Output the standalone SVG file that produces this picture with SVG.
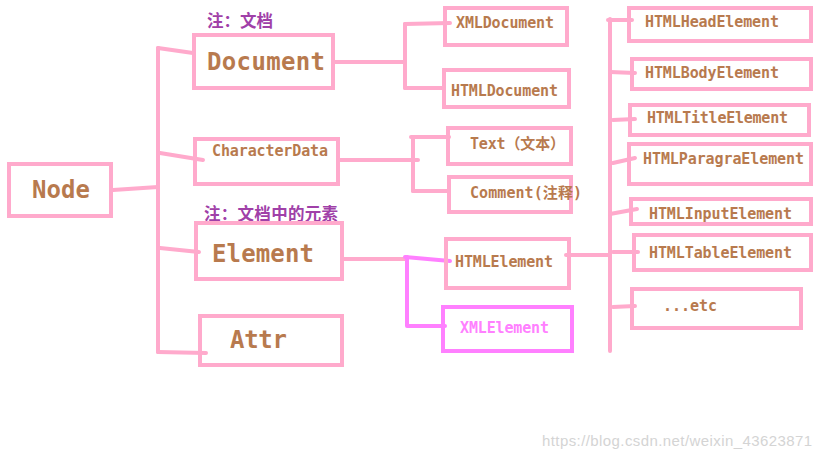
<svg xmlns="http://www.w3.org/2000/svg" width="819" height="459" viewBox="0 0 819 459">
<style>
.box{fill:none;stroke:#ffaacc;stroke-width:4}
.mbox{fill:none;stroke:#ff80ff;stroke-width:4}
.ln{fill:none;stroke:#ffaacc;stroke-width:4;stroke-linecap:round;stroke-linejoin:round}
.mln{fill:none;stroke:#ff80ff;stroke-width:4;stroke-linecap:round;stroke-linejoin:round}
text{font-family:"DejaVu Sans Mono","Noto Sans CJK SC",monospace;font-weight:bold;fill:#b87a4e}
.big{font-size:24px}
.sm{font-size:15px}
.note{font-family:"Noto Sans CJK SC",sans-serif;font-size:16.5px;fill:#a040a8}
.mt{fill:#ff80ff}
.wm{font-family:"Liberation Sans",sans-serif;font-weight:normal;font-size:15px;fill:#d4d4d4}
</style>
<rect width="819" height="459" fill="#ffffff"/>
<g id="connectors">
<path class="ln" d="M113,190 L158,187"/>
<path class="ln" d="M158,48 L158,352"/>
<path class="ln" d="M158,48 L193,53"/>
<path class="ln" d="M160,153 L203,160"/>
<path class="ln" d="M160,248 L199,252"/>
<path class="ln" d="M158,352 L206,353"/>
<path class="ln" d="M335,62 L405,62"/>
<path class="ln" d="M405,24 L405,88"/>
<path class="ln" d="M405,24 L450,23"/>
<path class="ln" d="M405,88 L444,88"/>
<path class="ln" d="M340,160 L418,160"/>
<path class="ln" d="M413,137 L413,191"/>
<path class="ln" d="M411,137 L449,137"/>
<path class="ln" d="M413,191 L447,191"/>
<path class="ln" d="M344,259 L406,259"/>
<path class="mln" d="M405,257 L450,261"/>
<path class="mln" d="M407,257 L407,326 L445,326"/>
<path class="ln" d="M566,255 L610,255"/>
<path class="ln" d="M610,19 L610,351"/>
<path class="ln" d="M608,20 L632,20"/>
<path class="ln" d="M610,72 L635,73"/>
<path class="ln" d="M613,120 L635,119"/>
<path class="ln" d="M613,163 L635,158"/>
<path class="ln" d="M610,214 L637,209"/>
<path class="ln" d="M613,252 L638,252"/>
<path class="ln" d="M613,307 L635,306"/>
</g>
<g id="node-node"><rect class="box" x="9" y="164" width="102" height="52"/><text class="big" x="32" y="198" textLength="58">Node</text></g>
<g id="node-document"><text class="note" x="207" y="27" textLength="66">注：文档</text><rect class="box" x="194" y="35" width="139" height="53"/><text class="big" x="207" y="70" textLength="118">Document</text></g>
<g id="node-characterdata"><rect class="box" x="195" y="139" width="143" height="45"/><text class="sm" x="212" y="156" textLength="116">CharacterData</text></g>
<g id="node-element"><text class="note" x="204" y="220" textLength="134">注：文档中的元素</text><rect class="box" x="196" y="223" width="146" height="56"/><text class="big" x="212" y="262" textLength="102">Element</text></g>
<g id="node-attr"><rect class="box" x="200" y="316" width="142" height="49"/><text class="big" x="230" y="348" textLength="57">Attr</text></g>
<g id="node-xmldocument"><rect class="box" x="445" y="8" width="122" height="37"/><text class="sm" x="456" y="28" textLength="98">XMLDocument</text></g>
<g id="node-htmldocument"><rect class="box" x="444" y="70" width="125" height="37"/><text class="sm" x="451" y="96" textLength="107">HTMLDocument</text></g>
<g id="node-text"><rect class="box" x="448" y="128" width="123" height="36"/><text class="sm" x="470" y="149" textLength="95">Text（文本）</text></g>
<g id="node-comment"><rect class="box" x="449" y="177" width="122" height="35"/><text class="sm" x="470" y="198" textLength="112">Comment(注释)</text></g>
<g id="node-htmlelement"><rect class="box" x="446" y="239" width="123" height="49"/><text class="sm" x="455" y="267" textLength="98">HTMLElement</text></g>
<g id="node-xmlelement"><rect class="mbox" x="443" y="307" width="129" height="44"/><text class="sm mt" x="460" y="333" textLength="89">XMLElement</text></g>
<g id="node-htmlheadelement"><rect class="box" x="629" y="8" width="182" height="33"/><text class="sm" x="645" y="27" textLength="134">HTMLHeadElement</text></g>
<g id="node-htmlbodyelement"><rect class="box" x="632" y="59" width="179" height="30"/><text class="sm" x="645" y="78" textLength="134">HTMLBodyElement</text></g>
<g id="node-htmltitleelement"><rect class="box" x="630" y="105" width="179" height="30"/><text class="sm" x="647" y="123" textLength="141">HTMLTitleElement</text></g>
<g id="node-htmlparagraelement"><rect class="box" x="629" y="144" width="182" height="40"/><text class="sm" x="643" y="164" textLength="161">HTMLParagraElement</text></g>
<g id="node-htmlinputelement"><rect class="box" x="631" y="199" width="180" height="25"/><text class="sm" x="649" y="219" textLength="143">HTMLInputElement</text></g>
<g id="node-htmltableelement"><rect class="box" x="634" y="235" width="177" height="35"/><text class="sm" x="649" y="258" textLength="143">HTMLTableElement</text></g>
<g id="node-etc"><rect class="box" x="632" y="289" width="169" height="39"/><text class="sm" x="663" y="311" textLength="54">...etc</text></g>
<text class="wm" x="542" y="446" textLength="270">https://blog.csdn.net/weixin_43623871</text>
</svg>
